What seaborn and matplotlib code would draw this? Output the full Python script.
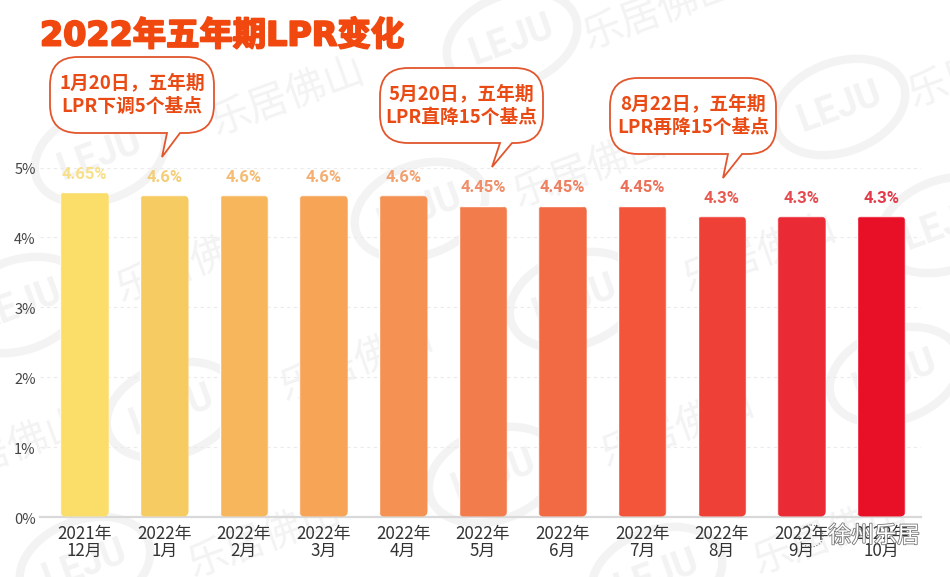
"""2022 five-year LPR changes, bar chart with callouts."""

import matplotlib

matplotlib.use("Agg")

import matplotlib.patheffects as pe
import matplotlib.pyplot as plt
import pandas as pd
import seaborn as sns
from matplotlib.patches import Ellipse, FancyBboxPatch, PathPatch
from matplotlib.path import Path
from matplotlib.transforms import Affine2D, ScaledTranslation

WIDTH, HEIGHT = 950, 577

months = [
    "2021年\n12月", "2022年\n1月", "2022年\n2月", "2022年\n3月",
    "2022年\n4月", "2022年\n5月", "2022年\n6月", "2022年\n7月",
    "2022年\n8月", "2022年\n9月", "2022年\n10月",
]
rates = [4.65, 4.6, 4.6, 4.6, 4.6, 4.45, 4.45, 4.45, 4.3, 4.3, 4.3]
value_labels = ["4.65%", "4.6%", "4.6%", "4.6%", "4.6%", "4.45%", "4.45%", "4.45%", "4.3%", "4.3%", "4.3%"]
bar_colors = [
    "#FBDD6A", "#F6CB62", "#F8B65C", "#F7A456", "#F59152", "#F27C4C",
    "#F26A43", "#F2553A", "#EF4038", "#EA2A35", "#E81026",
]
label_colors = [
    "#F8E088", "#F4CE78", "#F5BC72", "#F4AE72", "#F2A070", "#EF8E68",
    "#EE8060", "#EC7058", "#E85A50", "#E54A50", "#E23A48",
]
y_ticks = [0, 1, 2, 3, 4, 5]
y_tick_labels = ["0%", "1%", "2%", "3%", "4%", "5%"]

# text, box (left, top, right, bottom), tail (base start, base end, tip x, tip y) in pixels
callouts = [
    ("1月20日，五年期\nLPR下调5个基点", (50, 57, 214, 133), (167, 180, 162, 157)),
    ("5月20日，五年期\nLPR直降15个基点", (380, 68, 543, 143), (500, 512, 492, 167)),
    ("8月22日，五年期\nLPR再降15个基点", (610, 78, 776, 154), (728, 742, 723, 178)),
]

# watermark positions in pixels
mark_texts = [
    (288, 98), (660, 12), (985, 70), (590, 170), (193, 265), (760, 255),
    (357, 364), (678, 430), (10, 450), (265, 540), (830, 537),
]
mark_logos = [
    (512, 40), (840, 107), (100, 155), (420, 210), (575, 300), (945, 225),
    (20, 305), (172, 410), (494, 475), (895, 375), (85, 565), (657, 575),
]

plt.rcParams["font.family"] = ["Noto Sans CJK SC", "DejaVu Sans"]
sns.set_style("white")
plt.rcParams["font.family"] = ["Noto Sans CJK SC", "DejaVu Sans"]

px = Affine2D().scale(1 / WIDTH, -1 / HEIGHT).translate(0, 1)


def draw_callout(fig, text, box, tail):
    """Draw a rounded speech bubble with its text, all in pixel positions."""
    left, top, right, bottom = box
    base_a, base_b, tip_x, tip_y = tail
    r = 28
    codes = [Path.MOVETO]
    verts = [(left + r, top)]

    def line(x, y):
        verts.append((x, y))
        codes.append(Path.LINETO)

    def corner(cx, cy, x, y):
        verts.extend([(cx, cy), (x, y)])
        codes.extend([Path.CURVE3, Path.CURVE3])

    line(right - r, top)
    corner(right, top, right, top + r)
    line(right, bottom - r)
    corner(right, bottom, right - r, bottom)
    line(base_b, bottom)
    line(tip_x, tip_y)
    line(base_a, bottom)
    line(left + r, bottom)
    corner(left, bottom, left, bottom - r)
    line(left, top + r)
    corner(left, top, left + r, top)
    codes.append(Path.CLOSEPOLY)
    verts.append(verts[0])

    fig.add_artist(PathPatch(
        Path(verts, codes), facecolor="white", edgecolor="#E2562D", linewidth=1.3,
        transform=px + fig.transFigure, zorder=5,
    ))
    fig.text(
        (left + right) / 2 / WIDTH, 1 - (top + bottom) / 2 / HEIGHT, text,
        ha="center", va="center", fontsize=13.5, fontweight="bold",
        color="#EA4A14", linespacing=1.3, zorder=6,
    )


fig = plt.figure(figsize=(WIDTH / 100, HEIGHT / 100), dpi=100)
ax = fig.add_axes([40 / WIDTH, (HEIGHT - 516.5) / HEIGHT, 881 / WIDTH, 349 / HEIGHT])
ax.patch.set_visible(False)

# faint watermark behind the chart
for x, y in mark_texts:
    fig.text(
        x / WIDTH, 1 - y / HEIGHT, "乐居佛山", fontsize=29, color="#F3F3F3",
        rotation=20, ha="center", va="center", zorder=-2,
    )
for x, y in mark_logos:
    fig.add_artist(Ellipse(
        (x, y), 135, 90, angle=-20, facecolor="none", edgecolor="#F3F3F3",
        linewidth=6, transform=px + fig.transFigure, zorder=-2,
    ))
    fig.text(
        x / WIDTH, 1 - y / HEIGHT, "LEJU", fontsize=27, fontweight="bold",
        family=["Roboto", "DejaVu Sans"], color="#F3F3F3", rotation=20,
        ha="center", va="center", zorder=-2,
    )

data = pd.DataFrame({"month": months, "rate": rates})
sns.barplot(
    data=data, x="month", y="rate", hue="month", palette=bar_colors,
    width=0.61, legend=False, saturation=1, ax=ax, zorder=3,
)

# rounded corners on the bars, and the value above each
for container, text, color in zip(ax.containers, value_labels, label_colors):
    bar = container[0]
    rounded = FancyBboxPatch(
        (bar.get_x(), bar.get_y()), bar.get_width(), bar.get_height(),
        boxstyle="round,pad=0,rounding_size=0.07", mutation_aspect=1.14,
        transform=ax.transData,
    )
    bar.set_clip_path(rounded)
    ax.bar_label(
        container, labels=[text], padding=7.5, color=color, fontsize=12,
        fontweight="bold", family=["Roboto", "DejaVu Sans"],
    )

ax.set_xlim(-0.56, 10.5)
ax.set_ylim(0, 5)
ax.set_xlabel("")
ax.set_ylabel("")
ax.set_yticks(y_ticks, y_tick_labels)
ax.tick_params(
    axis="y", direction="in", length=6, width=0.8, color="#E6E6E6",
    labelsize=10.5, labelcolor="#444444", pad=3,
)
ax.tick_params(axis="x", length=3, width=0.8, color="#CCCCCC", labelsize=12.2, labelcolor="#333333", pad=3)
for label in ax.get_xticklabels():
    label.set_linespacing(0.9)
# the percent labels sit a little below their gridlines
for label in ax.get_yticklabels():
    label.set_transform(label.get_transform() + ScaledTranslation(0, -1.5 / 100, fig.dpi_scale_trans))
ax.yaxis.grid(True, color="#EBEBEB", linewidth=0.8, linestyle=(0, (3, 3)), zorder=0)
ax.set_axisbelow(True)
sns.despine(ax=ax, left=True)
ax.spines["bottom"].set_color("#D9D9D9")
ax.spines["bottom"].set_linewidth(1.6)

fig.text(
    40 / WIDTH, 1 - 36 / HEIGHT, "2022年五年期LPR变化", fontsize=24, fontweight="bold",
    family=["DejaVu Sans", "Noto Sans CJK SC"], color="#F0480E", ha="left", va="center",
    path_effects=[pe.withStroke(linewidth=1.4, foreground="#F0480E")], zorder=6,
)

for text, box, tail in callouts:
    draw_callout(fig, text, box, tail)

# account stamp over the bottom right corner
fig.add_artist(Ellipse(
    (811, 536), 24, 22, facecolor="none", edgecolor="#777777", linewidth=0.8,
    linestyle=":", transform=px + fig.transFigure, zorder=7,
))
fig.text(
    874 / WIDTH, 1 - 536 / HEIGHT, "徐州乐居", fontsize=16.5, color="white",
    ha="center", va="center", zorder=7,
    path_effects=[pe.withStroke(linewidth=1.2, foreground="#777777")],
)

fig.savefig("out.png", dpi=100)
plt.close(fig)
